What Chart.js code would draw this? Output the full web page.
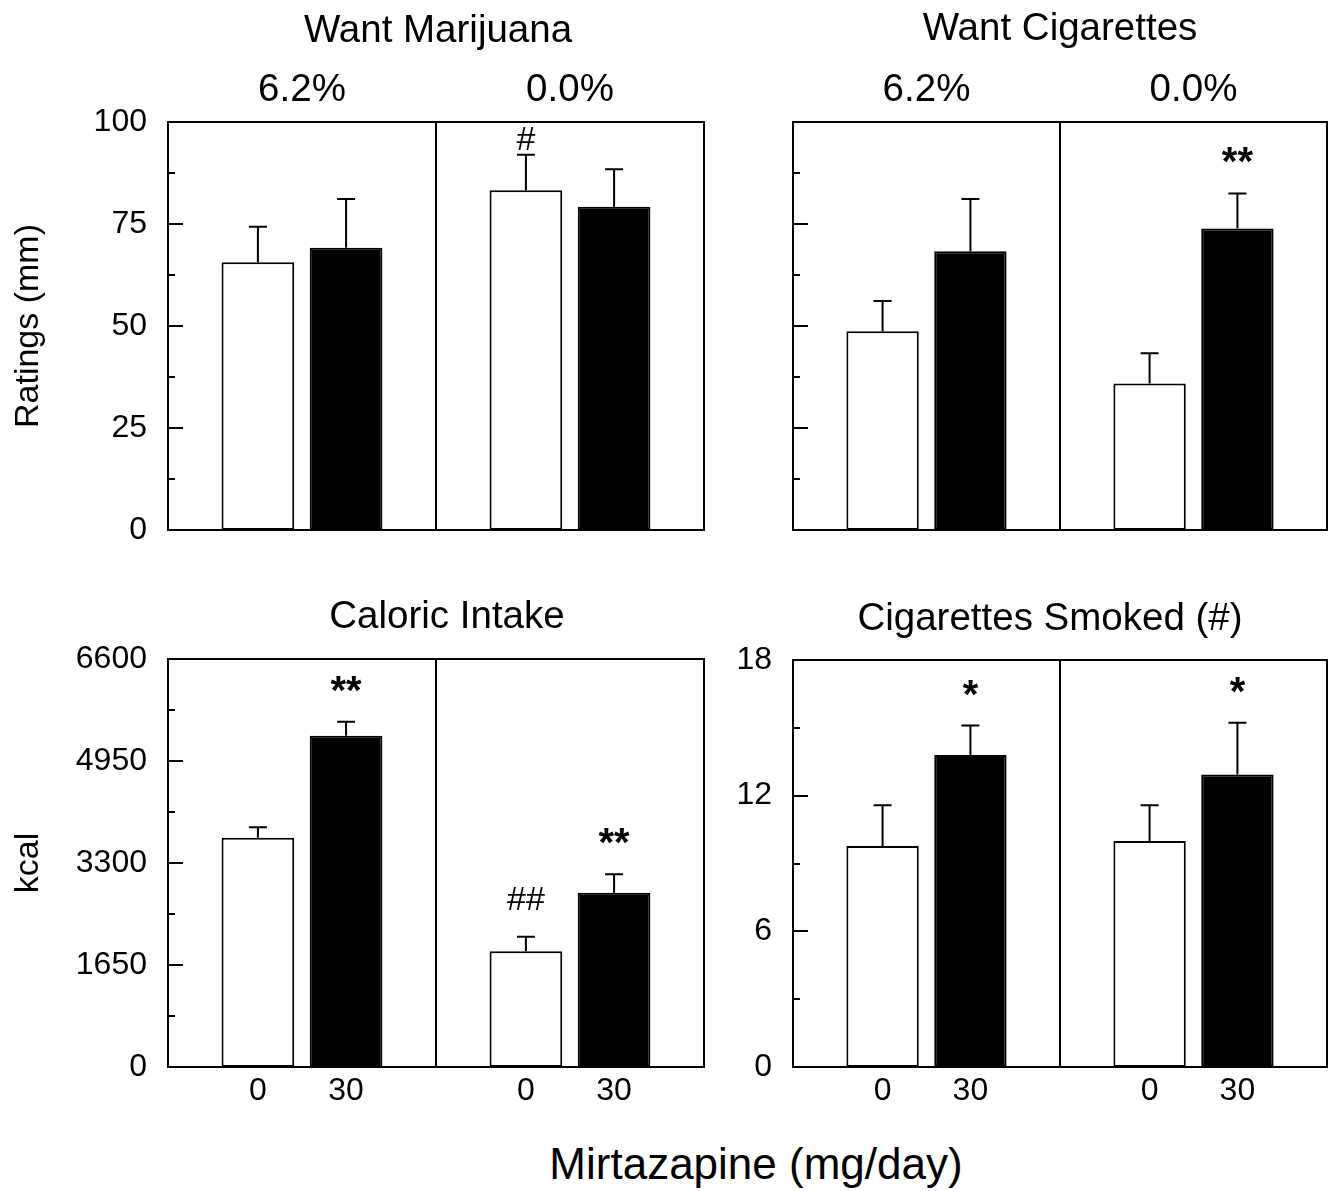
<!DOCTYPE html>
<html lang="en">
<head>
<meta charset="utf-8">
<title>Mirtazapine: craving, food intake and smoking</title>
<script src="https://cdn.jsdelivr.net/npm/chart.js@4.4.1/dist/chart.umd.min.js"></script>
<style>
  html, body { margin: 0; padding: 0; background: #fff; }
  body { position: relative; width: 1339px; height: 1191px; overflow: hidden;
         font-family: 'Liberation Sans', Arial, Helvetica, sans-serif; }
  canvas { position: absolute; }
  #doseTitle { position: absolute; left: 456px; top: 1137px; width: 600px; text-align: center;
               font-size: 44px; line-height: 54px; color: #000; }
</style>
</head>
<body>
<canvas id="wantMarijuana" width="720" height="572" style="left:0;top:0"></canvas>
<canvas id="wantCigarettes" width="619" height="572" style="left:720px;top:0"></canvas>
<canvas id="caloricIntake" width="720" height="545" style="left:0;top:572px"></canvas>
<canvas id="cigarettesSmoked" width="619" height="545" style="left:720px;top:572px"></canvas>
<div id="doseTitle">Mirtazapine (mg/day)</div>
<script>
const FONT = "'Liberation Sans', Arial, Helvetica, sans-serif";

// Groups along each x axis (THC strength) and the two doses shown in each group
const conditions = ['6.2%', '0.0%'];
const doses = ['0', '30'];

// Want Marijuana, ratings (mm): mean and SEM per group
const marijuanaMean0 = [65.6, 83.3];
const marijuanaMean30 = [69.2, 79.2];
const marijuanaSem0 = [8.7, 8.7];
const marijuanaSem30 = [11.9, 9.2];
const marijuanaSig0 = ['', '#'];
const marijuanaSig30 = ['', ''];

// Want Cigarettes, ratings (mm)
const cigWantMean0 = [48.7, 35.9];
const cigWantMean30 = [68.3, 73.9];
const cigWantSem0 = [7.4, 7.4];
const cigWantSem30 = [12.8, 8.6];
const cigWantSig0 = ['', ''];
const cigWantSig30 = ['', '**'];

// Caloric Intake (kcal)
const kcalMean0 = [3710, 1874];
const kcalMean30 = [5357, 2819];
const kcalSem0 = [168, 232];
const kcalSem30 = [227, 298];
const kcalSig0 = ['', '##'];
const kcalSig30 = ['**', '**'];

// Cigarettes Smoked (#)
const smokedMean0 = [9.77, 9.99];
const smokedMean30 = [13.8, 12.94];
const smokedSem0 = [1.81, 1.59];
const smokedSem30 = [1.3, 2.29];
const smokedSig0 = ['', ''];
const smokedSig30 = ['*', '*'];

// Value axes: [maximum, minor tick step, labelled tick step]
const ratingsAxis = [100, 12.5, 25];
const kcalAxis = [6600, 825, 1650];
const smokedAxis = [18, 3, 6];

// Text centred on its visible glyph box (or on cap height for words)
function drawCentered(ctx, text, x, yc, font, byCap) {
  ctx.font = font;
  ctx.textAlign = 'center';
  ctx.textBaseline = 'alphabetic';
  const m = ctx.measureText(byCap ? 'H' : text);
  ctx.fillText(text, x, yc + (m.actualBoundingBoxAscent - m.actualBoundingBoxDescent) / 2);
}

// Frame, inward ticks, upper error bars, significance marks, dose labels, panel title
const panelDecor = {
  id: 'panelDecor',
  afterDraw(chart, args, o) {
    const { ctx, chartArea: a } = chart;
    const y = chart.scales.y;
    ctx.save();
    ctx.strokeStyle = '#000';
    ctx.fillStyle = '#000';
    ctx.lineWidth = 2;
    ctx.strokeRect(a.left, a.top, a.right - a.left, a.bottom - a.top);

    y.ticks.forEach(t => {
      const py = Math.round(y.getPixelForValue(t.value));
      const len = (Math.abs(t.value % o.major) < 1e-9) ? 15 : 7;
      ctx.beginPath();
      ctx.moveTo(a.left, py);
      ctx.lineTo(a.left + len, py);
      ctx.stroke();
    });

    chart.data.datasets.forEach((ds, di) => {
      chart.getDatasetMeta(di).data.forEach((bar, i) => {
        const base = y.getPixelForValue(ds.data[i]);
        const top = y.getPixelForValue(ds.data[i] + ds.sem[i]);
        ctx.beginPath();
        ctx.moveTo(bar.x, base);
        ctx.lineTo(bar.x, top);
        ctx.moveTo(bar.x - 9, top);
        ctx.lineTo(bar.x + 9, top);
        ctx.stroke();
        const mark = ds.sig[i];
        if (mark) {
          const font = mark.includes('*') ? `bold 40px ${FONT}` : `34px ${FONT}`;
          drawCentered(ctx, mark, bar.x, Math.max(top - 38, a.top + 16), font, false);
        }
        if (o.doseLabels) {
          drawCentered(ctx, ds.label, bar.x, a.bottom + 22, `32px ${FONT}`, true);
        }
      });
    });

    drawCentered(ctx, o.title, (a.left + a.right) / 2 + o.titleShift, a.top - o.titleGap, `38.5px ${FONT}`, true);
    ctx.restore();
  }
};

function makePanel(id, p) {
  const chart = new Chart(document.getElementById(id), {
    type: 'bar',
    data: {
      labels: conditions,
      datasets: [
        { label: doses[0], data: p.mean[0], sem: p.sem[0], sig: p.sig[0],
          backgroundColor: '#fff', borderColor: '#000', borderWidth: 2, borderSkipped: false,
          categoryPercentage: 0.658, barPercentage: 0.824 },
        { label: doses[1], data: p.mean[1], sem: p.sem[1], sig: p.sig[1],
          backgroundColor: '#000', borderColor: '#000', borderWidth: 2, borderSkipped: false,
          categoryPercentage: 0.658, barPercentage: 0.824 }
      ]
    },
    options: {
      responsive: false,
      animation: false,
      devicePixelRatio: 1,
      layout: { padding: Object.assign({}, p.pad) },
      plugins: {
        legend: { display: false },
        tooltip: { enabled: false },
        panelDecor: { title: p.title, titleGap: p.titleGap, titleShift: p.titleShift,
                      major: p.axis[2], doseLabels: p.doseLabels }
      },
      scales: {
        x: {
          position: p.groupLabels ? 'top' : 'bottom',
          offset: true,
          grid: { display: true, offset: true, drawTicks: false, color: '#000', lineWidth: 2 },
          border: { display: false },
          ticks: { display: p.groupLabels, color: '#000', padding: 9, maxRotation: 0,
                   font: { family: FONT, size: 38.5 } },
          afterFit: s => { s.height = p.groupLabels ? 54 : 0; }
        },
        y: {
          min: 0,
          max: p.axis[0],
          grid: { display: false, drawTicks: false },
          border: { display: false },
          ticks: {
            stepSize: p.axis[1],
            autoSkip: false,
            color: '#000',
            padding: 21,
            font: { family: FONT, size: 32 },
            callback: v => (p.yLabels && Math.abs(v % p.axis[2]) < 1e-9) ? String(v) : ''
          },
          title: { display: !!p.yTitle, text: p.yTitle || '', color: '#000',
                   font: { family: FONT, size: 34 }, padding: { top: 8, bottom: 0 } },
          afterFit: s => { s.width = p.yWidth; }
        }
      }
    },
    plugins: [panelDecor]
  });

  // Nudge the layout padding until the plot frame sits on the requested edges
  for (let k = 0; k < 4; k++) {
    const a = chart.chartArea;
    const pad = Object.assign({}, chart.options.layout.padding);
    const dTop = p.area.top - a.top;
    const dBottom = a.bottom - p.area.bottom;
    const dRight = a.right - p.area.right;
    if (Math.abs(dTop) + Math.abs(dBottom) + Math.abs(dRight) < 0.5) break;
    pad.top += dTop;
    pad.bottom += dBottom;
    pad.right += dRight;
    chart.options.layout.padding = pad;
    chart.update();
  }
  return chart;
}

makePanel('wantMarijuana', {
  title: 'Want Marijuana', titleGap: 94, titleShift: 2,
  mean: [marijuanaMean0, marijuanaMean30], sem: [marijuanaSem0, marijuanaSem30], sig: [marijuanaSig0, marijuanaSig30],
  axis: ratingsAxis, yLabels: true, yTitle: 'Ratings (mm)', yWidth: 168,
  groupLabels: true, doseLabels: false,
  pad: { top: 68, right: 16, bottom: 42, left: 0 },
  area: { top: 122, bottom: 530, right: 704 }
});

makePanel('wantCigarettes', {
  title: 'Want Cigarettes', titleGap: 96, titleShift: 0,
  mean: [cigWantMean0, cigWantMean30], sem: [cigWantSem0, cigWantSem30], sig: [cigWantSig0, cigWantSig30],
  axis: ratingsAxis, yLabels: false, yTitle: '', yWidth: 73,
  groupLabels: true, doseLabels: false,
  pad: { top: 68, right: 12, bottom: 42, left: 0 },
  area: { top: 122, bottom: 530, right: 607 }
});

makePanel('caloricIntake', {
  title: 'Caloric Intake', titleGap: 45, titleShift: 11,
  mean: [kcalMean0, kcalMean30], sem: [kcalSem0, kcalSem30], sig: [kcalSig0, kcalSig30],
  axis: kcalAxis, yLabels: true, yTitle: 'kcal', yWidth: 168,
  groupLabels: false, doseLabels: true,
  pad: { top: 87, right: 16, bottom: 50, left: 0 },
  area: { top: 87, bottom: 495, right: 704 }
});

makePanel('cigarettesSmoked', {
  title: 'Cigarettes Smoked (#)', titleGap: 44, titleShift: -10,
  mean: [smokedMean0, smokedMean30], sem: [smokedSem0, smokedSem30], sig: [smokedSig0, smokedSig30],
  axis: smokedAxis, yLabels: true, yTitle: '', yWidth: 73,
  groupLabels: false, doseLabels: true,
  pad: { top: 88, right: 12, bottom: 50, left: 0 },
  area: { top: 88, bottom: 495, right: 607 }
});
</script>
</body>
</html>
